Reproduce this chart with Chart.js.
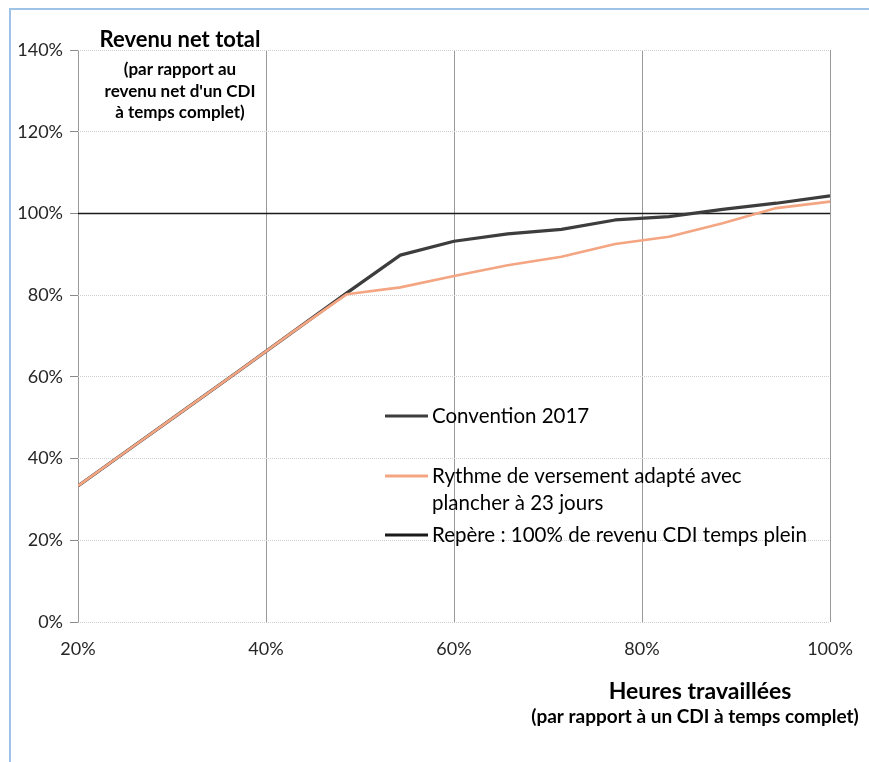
<!DOCTYPE html>
<html lang="fr">
<head>
<meta charset="utf-8">
<script src="https://cdn.jsdelivr.net/npm/chart.js@4/dist/chart.umd.min.js"></script>
<style>
  html, body { margin: 0; padding: 0; background: #fff; }
  canvas { display: block; }
</style>
</head>
<body>
<canvas id="c" width="869" height="762"></canvas>
<script>
// Hours worked, as a share of a full-time permanent contract (%)
const heures = [20, 25.71, 31.43, 37.14, 42.86, 48.57, 54.29, 60, 65.71, 71.43, 77.14, 82.86, 88.57, 94.29, 100];
// Total net income, as a share of full-time net income (%)
const convention2017 = [33.3, 42.7, 52.1, 61.5, 71.0, 80.5, 89.8, 93.2, 95.0, 96.1, 98.4, 99.2, 101.0, 102.5, 104.3];
const rythmeAdapte   = [33.3, 42.7, 52.1, 61.5, 71.0, 80.2, 81.9, 84.7, 87.3, 89.4, 92.5, 94.3, 97.6, 101.3, 102.9];
// Reference line: 100 % of full-time income
const repereX = [20, 100];
const repereY = [100, 100];

const yTicks = [0, 20, 40, 60, 80, 100, 120, 140];
const xTicks = [20, 40, 60, 80, 100];

// Legend entries (one line of text per array item)
const legendLines = [
  ["Convention 2017"],
  ["Rythme de versement adapté avec", "plancher à 23 jours"],
  ["Repère : 100% de revenu CDI temps plein"]
];
const yTitleLines = ["Revenu net total", "(par rapport au", "revenu net d'un CDI", "à temps complet)"];
const xTitleLines = ["Heures travaillées", "(par rapport à un CDI à temps complet)"];

const FONT = "Lato, 'Open Sans', sans-serif";
const pts = (xs, ys) => xs.map((x, i) => ({ x: x, y: ys[i] }));

// Blue frame around the figure
const framePlugin = {
  id: 'frame',
  beforeDraw(chart) {
    const ctx = chart.ctx;
    ctx.save();
    ctx.fillStyle = '#fff';
    ctx.fillRect(0, 0, chart.width, chart.height);
    ctx.strokeStyle = '#9dc3e6';
    ctx.lineWidth = 2;
    ctx.beginPath();
    ctx.moveTo(10, chart.height);
    ctx.lineTo(10, 9);
    ctx.lineTo(chart.width, 9);
    ctx.stroke();
    ctx.restore();
  }
};

// Axis titles and in-plot legend
const textPlugin = {
  id: 'texts',
  afterDraw(chart) {
    const ctx = chart.ctx;
    ctx.save();
    ctx.fillStyle = '#000';
    ctx.textAlign = 'center';
    ctx.textBaseline = 'alphabetic';
    // y title
    ctx.font = 'bold 22px ' + FONT;
    ctx.fillText(yTitleLines[0], 180, 47);
    ctx.font = 'bold 17px ' + FONT;
    ctx.fillText(yTitleLines[1], 180, 75);
    ctx.fillText(yTitleLines[2], 180, 97);
    ctx.fillText(yTitleLines[3], 180, 118);
    // x title
    ctx.font = 'bold 23px ' + FONT;
    ctx.fillText(xTitleLines[0], 700, 699);
    ctx.font = 'bold 19px ' + FONT;
    ctx.fillText(xTitleLines[1], 695, 723);

    // legend
    const ys = [416, 476, 535];
    ctx.textAlign = 'left';
    ctx.textBaseline = 'middle';
    ctx.font = '20.5px ' + FONT;
    chart.data.datasets.forEach((ds, i) => {
      const y = ys[i];
      ctx.strokeStyle = ds.borderColor;
      ctx.lineWidth = Math.max(ds.borderWidth, 3);
      ctx.beginPath();
      ctx.moveTo(385, y);
      ctx.lineTo(428, y);
      ctx.stroke();
      ctx.fillStyle = '#000';
      legendLines[i].forEach((t, k) => ctx.fillText(t, 432, y + k * 27));
    });
    ctx.restore();
  }
};

new Chart(document.getElementById('c'), {
  type: 'line',
  data: {
    datasets: [
      { label: legendLines[0].join(' '), data: pts(heures, convention2017), borderColor: '#3d3d3d', borderWidth: 3.2, order: 1 },
      { label: legendLines[1].join(' '), data: pts(heures, rythmeAdapte), borderColor: '#f4a582', borderWidth: 2.6, order: 0 },
      { label: legendLines[2].join(' '), data: pts(repereX, repereY), borderColor: '#1a1a1a', borderWidth: 1.4, order: 2 }
    ]
  },
  options: {
    responsive: false,
    animation: false,
    events: [],
    layout: { padding: { left: 0, top: 50, right: 39, bottom: 0 } },
    elements: { point: { radius: 0 }, line: { tension: 0, borderCapStyle: 'butt', borderJoinStyle: 'round' } },
    plugins: { legend: { display: false }, tooltip: { enabled: false }, title: { display: false } },
    scales: {
      x: {
        type: 'linear',
        min: 20, max: 100,
        afterFit: s => { s.height = 140; },
        afterBuildTicks: s => { s.ticks = xTicks.map(v => ({ value: v })); },
        ticks: { callback: v => v + '%', color: '#262626', font: { family: FONT, size: 18 }, padding: 16, maxRotation: 0 },
        grid: { color: '#9a9a9a', lineWidth: 1, drawTicks: false },
        border: { display: false }
      },
      y: {
        min: 0, max: 140,
        afterFit: s => { s.width = 78; },
        afterBuildTicks: s => { s.ticks = yTicks.map(v => ({ value: v })); },
        ticks: { callback: v => v + '%', color: '#262626', font: { family: FONT, size: 18 }, padding: 7 },
        grid: { color: '#cfcfcf', lineWidth: 1, tickLength: 8, tickColor: '#8a8a8a', tickBorderDash: [] },
        border: { display: false, dash: [1, 1] }
      }
    }
  },
  plugins: [framePlugin, textPlugin]
});
</script>
</body>
</html>
